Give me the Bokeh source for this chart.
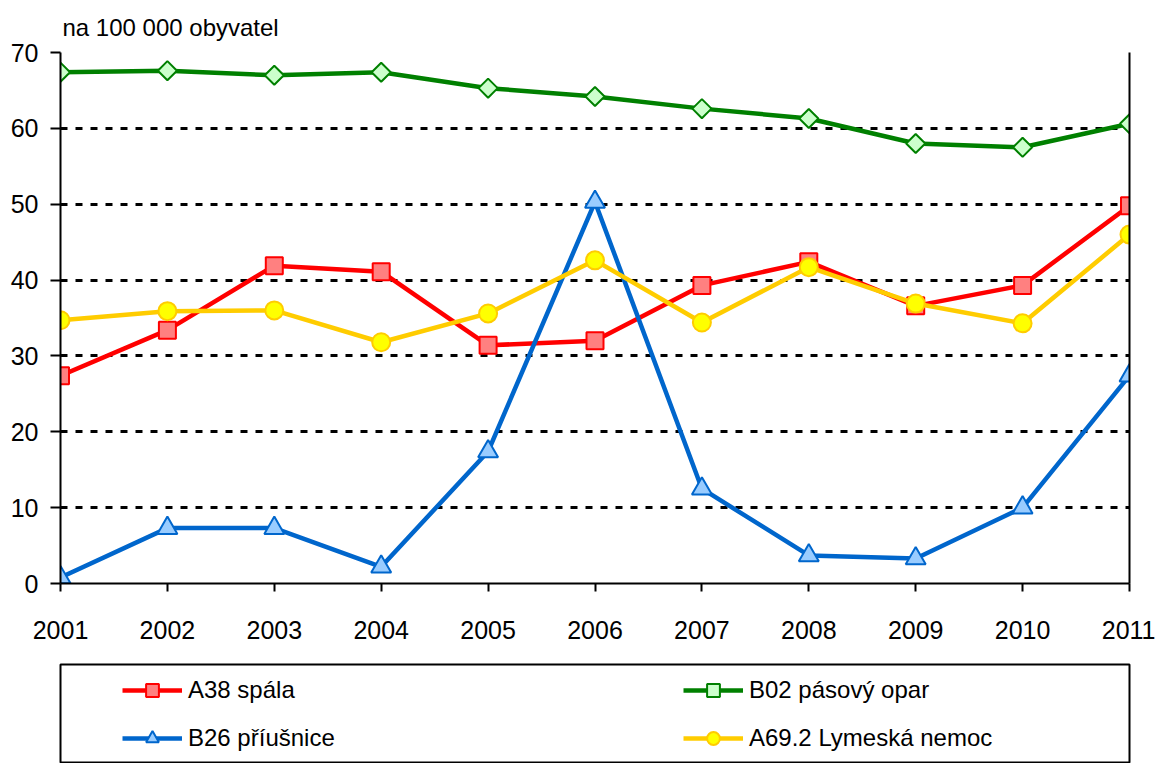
import numpy as np
from bokeh.plotting import figure
from bokeh.models import (FixedTicker, LinearAxis, Legend, LegendItem, Range1d,
                          ColumnDataSource)
from bokeh.layouts import column
from bokeh.embed import file_html
from bokeh.resources import INLINE

years = [2001, 2002, 2003, 2004, 2005, 2006, 2007, 2008, 2009, 2010, 2011]
a38_spala = [27.4, 33.4, 41.9, 41.1, 31.4, 32.0, 39.3, 42.4, 36.6, 39.3, 49.8]
b02_pasovy_opar = [67.4, 67.6, 67.0, 67.4, 65.3, 64.2, 62.6, 61.3, 58.0, 57.5, 60.6]
b26_priusnice = [0.8, 7.3, 7.3, 2.2, 17.4, 50.3, 12.5, 3.7, 3.3, 10.0, 27.4]
a69_lymeska = [34.7, 35.9, 36.0, 31.8, 35.6, 42.6, 34.4, 41.7, 36.9, 34.3, 46.0]
y_ticks = [0, 10, 20, 30, 40, 50, 60, 70]
y_unit_label = "na 100 000 obyvatel"

series = [
    ("A38 spála", a38_spala, "#FF0000", "#FF8080", "square", 17, 0.0),
    ("B02 pásový opar", b02_pasovy_opar, "#008000", "#CCFFCC", "square", 13.5, np.pi / 4),
    ("B26 příušnice", b26_priusnice, "#0066CC", "#99CCFF", "triangle", 20, 0.0),
    ("A69.2 Lymeská nemoc", a69_lymeska, "#FFCC00", "#FFFF00", "circle", 18, 0.0),
]

FONT = "Liberation Sans"
W = 1155

p = figure(width=W, height=650, output_backend="svg", toolbar_location=None,
           x_range=Range1d(years[0], years[-1]),
           y_range=Range1d(y_ticks[0], y_ticks[-1]),
           min_border_left=60, min_border_right=26, min_border_top=52,
           min_border_bottom=67)
p.outline_line_color = None
p.background_fill_color = "white"
p.border_fill_color = "white"

p.title.text = y_unit_label
p.title.text_font = FONT
p.title.text_font_size = "24px"
p.title.text_font_style = "normal"
p.title.text_color = "black"
p.title.align = "left"
p.title.offset = 2
p.title.standoff = 23

xa = p.xaxis[0]
xa.ticker = FixedTicker(ticks=years)
xa.major_tick_out = 8
xa.major_tick_in = 0
xa.minor_tick_line_color = None
xa.axis_line_width = 2
xa.major_tick_line_width = 2
xa.major_label_text_font = FONT
xa.major_label_text_font_size = "25px"
xa.major_label_standoff = 29
xa.major_label_text_color = "black"

ya = p.yaxis[0]
ya.ticker = FixedTicker(ticks=y_ticks)
ya.major_tick_out = 10
ya.major_tick_in = 0
ya.minor_tick_line_color = None
ya.axis_line_width = 2
ya.major_tick_line_width = 2
ya.major_label_text_font = FONT
ya.major_label_text_font_size = "25px"
ya.major_label_standoff = 12
ya.major_label_text_color = "black"

ra = LinearAxis(major_tick_out=0, major_tick_in=0, minor_tick_line_color=None,
                major_label_text_font_size="0px", axis_line_width=2,
                ticker=FixedTicker(ticks=[]))
p.add_layout(ra, "right")

p.xgrid.grid_line_color = None
p.ygrid.ticker = FixedTicker(ticks=y_ticks)
p.ygrid.grid_line_color = "black"
p.ygrid.grid_line_width = 3
p.ygrid.grid_line_dash = "7 8"

for name, vals, lc, fc, mk, sz, ang in series:
    src = ColumnDataSource(dict(x=years, y=vals))
    p.line("x", "y", source=src, line_color=lc, line_width=4.5)
    p.scatter("x", "y", source=src, marker=mk, size=sz, angle=ang,
              fill_color=fc, line_color=lc, line_width=2)

# legend panel (a framed box below the chart)
p2 = figure(width=W, height=113, output_backend="svg", toolbar_location=None,
            x_range=Range1d(0, 1), y_range=Range1d(0, 1),
            x_axis_location=None, y_axis_location=None,
            min_border_left=60, min_border_right=26, min_border_top=14,
            min_border_bottom=0)
p2.grid.visible = False
p2.outline_line_color = "black"
p2.outline_line_width = 2
p2.background_fill_color = "white"
p2.border_fill_color = "white"

items = {}
for name, vals, lc, fc, mk, sz, ang in series:
    src2 = ColumnDataSource(dict(x=years, y=vals))  # outside this panel's range
    l = p2.line("x", "y", source=src2, line_color=lc, line_width=4.5)
    s = p2.scatter("x", "y", source=src2, marker=mk, size=sz, angle=ang,
                   fill_color=fc, line_color=lc, line_width=2)
    items[name] = LegendItem(label=name, renderers=[l, s])

order = ["A38 spála", "B26 příušnice", "B02 pásový opar", "A69.2 Lymeská nemoc"]
legend = Legend(items=[items[k] for k in order], location=(62, 9), ncols=2,
                padding=0, margin=0, spacing=16, border_line_color=None,
                background_fill_alpha=0, glyph_width=60, glyph_height=32,
                label_height=32, label_width=479, label_standoff=6,
                label_text_font=FONT, label_text_font_size="24px",
                label_text_color="black")
p2.add_layout(legend, "center")

layout = column(p, p2, spacing=0)
open("out.html", "w").write(file_html(layout, INLINE))
